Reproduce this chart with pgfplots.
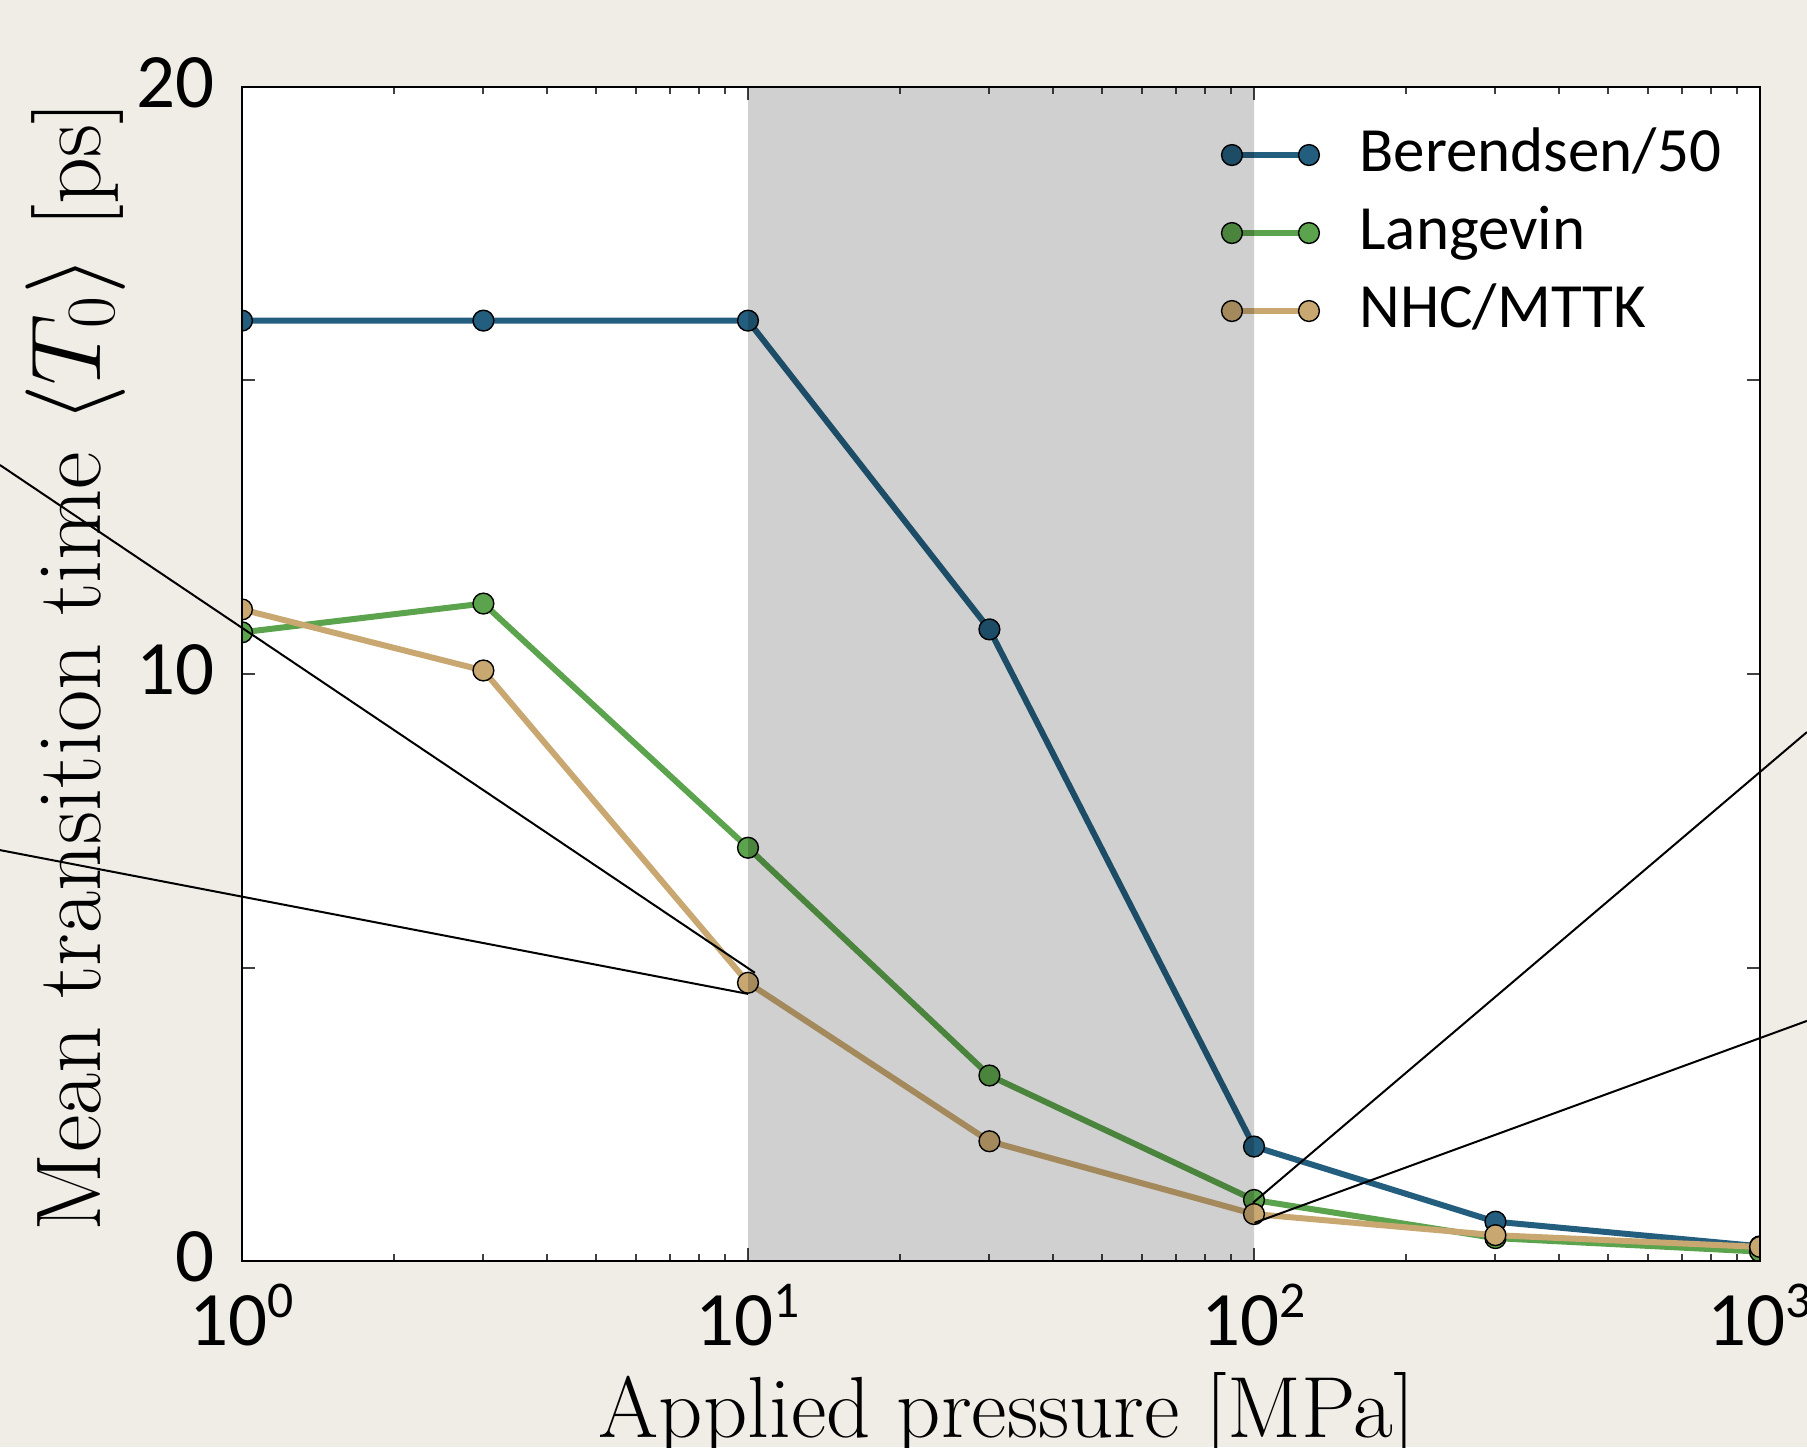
\documentclass[border=0pt]{standalone}
\usepackage{fontspec}
\setmainfont{Carlito}
\newfontfamily\lmr{Latin Modern Roman}
\usepackage{pgfplots}
\pgfplotsset{compat=1.18}
\definecolor{bg}{RGB}{240,237,231}
\definecolor{cblue}{RGB}{36,94,126}
\definecolor{cgreen}{RGB}{91,163,76}
\definecolor{ctan}{RGB}{200,168,112}
\newcommand\tenpow[1]{10\raisebox{7pt}{\fontsize{12.9}{13}\selectfont #1}}
\begin{document}%
\pagecolor{bg}%
\begin{tikzpicture}
\begin{axis}[
  at={(0,0)}, anchor=south west,
  scale only axis, width=379.5pt, height=293.5pt,
  xmode=log, xmin=1, xmax=1000, ymin=0, ymax=20,
  set layers, axis on top,
  clip marker paths=true,
  axis background/.style={fill=white},
  axis line style={line width=0.7pt},
  xtick={1,10,100,1000},
  xticklabels={\tenpow{0},\tenpow{1},\tenpow{2},\tenpow{3}},
  minor xtick={2,3,4,5,6,7,8,9,20,30,40,50,60,70,80,90,200,300,400,500,600,700,800,900},
  ytick={0,5,10,15,20},
  yticklabels={0,,10,,20},
  tick align=inside,
  major tick length=3.25pt, minor tick length=1.75pt,
  tick style={line width=0.5pt, color=black!75},
  ticklabel style={font=\fontsize{19.25}{20}\selectfont, inner sep=0pt},
  yticklabel style={anchor=east, xshift=-6.75pt, yshift=1pt},
  xticklabel style={anchor=base, yshift=-21pt},
  xlabel={\lmr\fontsize{21.7}{26}\selectfont Applied pressure [MPa]},
  xlabel style={at={(axis description cs:0.50395,-0.14991)}, anchor=base, inner sep=0pt},
  ylabel={\lmr\fontsize{23}{27}\selectfont Mean transition time $\langle T_0\rangle$ [ps]},
  ylabel style={at={(axis description cs:-0.09354,0.5064)}, anchor=base, inner sep=0pt},
  legend style={draw=none, fill=none, inner sep=0pt, outer sep=0pt,
    at={(axis description cs:0.6453,0.9693)}, anchor=north west,
    row sep=3.5pt, column sep=10pt, cells={anchor=west},
    nodes={inner sep=0pt, text height=12pt, text depth=4pt},
    font=\fontsize{15.75}{18}\selectfont},
  legend image code/.code={\draw[#1] plot coordinates {(0pt,0pt) (19.25pt,0pt)};},
]
\addplot[cblue, line width=1.5pt, mark=*, mark size=2.6pt, mark options={fill=cblue, draw=black, line width=0.35pt}]
  coordinates {(1,16.02) (3,16.02) (10,16.02) (30,10.76) (100,1.95) (300,0.67) (1000,0.25)};
\addlegendentry{Berendsen/50}
\addplot[cgreen, line width=1.5pt, mark=*, mark size=2.6pt, mark options={fill=cgreen, draw=black, line width=0.35pt}]
  coordinates {(1,10.71) (3,11.2) (10,7.04) (30,3.16) (100,1.04) (300,0.39) (1000,0.16)};
\addlegendentry{Langevin}
\addplot[ctan, line width=1.5pt, mark=*, mark size=2.6pt, mark options={fill=ctan, draw=black, line width=0.35pt}]
  coordinates {(1,11.1) (3,10.06) (10,4.74) (30,2.04) (100,0.80) (300,0.44) (1000,0.24)};
\addlegendentry{NHC/MTTK}
\addplot[on layer=axis foreground, draw=none, fill=black, fill opacity=0.184, forget plot]
  coordinates {(10,0) (10,20) (100,20) (100,0)} \closedcycle;
\end{axis}
\begin{axis}[
  at={(0,0)}, anchor=south west,
  scale only axis, width=379.5pt, height=293.5pt,
  xmode=log, xmin=1, xmax=1000, ymin=0, ymax=20,
  hide axis, clip=false,
]
\addplot[black, line width=0.5pt] coordinates {(0.3324,13.56) (10.32,4.91)};
\addplot[black, line width=0.5pt] coordinates {(0.3324,7.00) (10.0,4.55)};
\addplot[black, line width=0.5pt] coordinates {(99.5,0.99) (1238,9.01)};
\addplot[black, line width=0.5pt] coordinates {(100.2,0.65) (1238,4.09)};
\end{axis}
\pgfresetboundingbox
\useasboundingbox (-60.5pt,-46.5pt) rectangle (391.25pt,315.25pt);
\end{tikzpicture}%
\end{document}
